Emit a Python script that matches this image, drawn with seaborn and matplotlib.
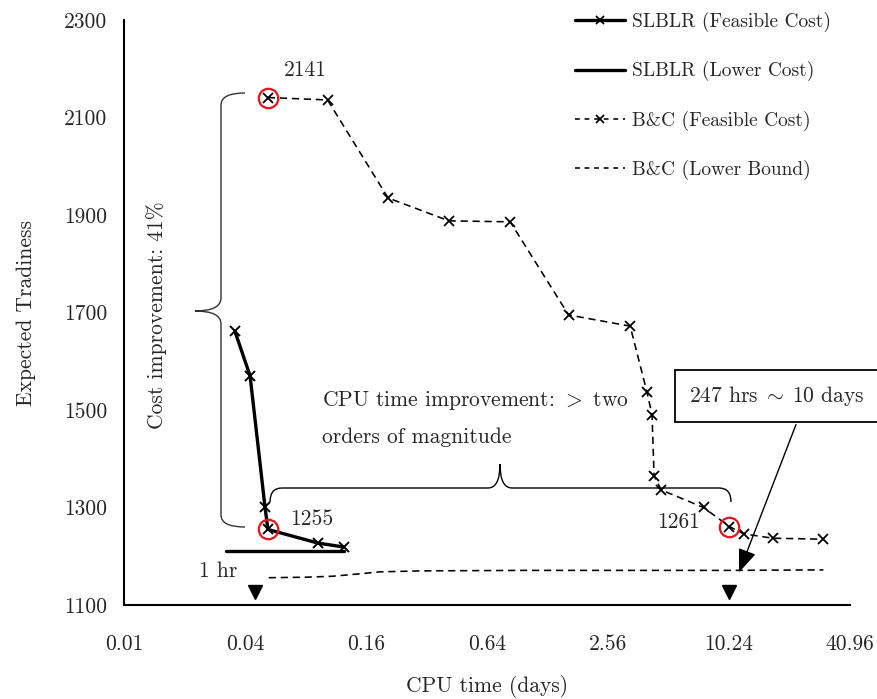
import numpy as np
import pandas as pd
import matplotlib
matplotlib.use("Agg")
import matplotlib.pyplot as plt
import seaborn as sns
from matplotlib.path import Path
from matplotlib.patches import PathPatch, FancyArrowPatch
from matplotlib.lines import Line2D
from matplotlib.transforms import Affine2D

# ---------------- data ----------------
slblr_feas_t = [0.0356, 0.0424, 0.0503, 0.052, 0.0923, 0.124]
slblr_feas_v = [1662, 1570, 1301, 1255, 1227, 1219]
slblr_low_t = [0.0322, 0.124]
slblr_low_v = [1211, 1211]
bc_feas_t = [0.052, 0.103, 0.206, 0.414, 0.835, 1.63, 3.30, 4.0, 4.24, 4.34,
             4.71, 7.65, 10.28, 12.1, 16.9, 30.2]
bc_feas_v = [2141, 2136, 1935, 1888, 1886, 1695, 1672, 1537, 1490, 1365,
             1336, 1300, 1261, 1246, 1237, 1235]
bc_low_t = [0.0525, 0.08, 0.109, 0.149, 0.188, 0.3, 1.0, 10.0, 30.2]
bc_low_v = [1156, 1157, 1159, 1164, 1168, 1170, 1171, 1171, 1172]
time_marks_t = [0.045, 10.29]       # 1 hr, 247 hrs
time_marks_v = [1127, 1127]
highlight_idx_bc = [0, 12]           # 2141, 1261
highlight_idx_slblr = [3]            # 1255
xticks = [0.01, 0.04, 0.16, 0.64, 2.56, 10.24, 40.96]
xticklabels = ["0.01", "0.04", "0.16", "0.64", "2.56", "10.24", "40.96"]
yticks = [1100, 1300, 1500, 1700, 1900, 2100, 2300]
yticklabels = [str(v) for v in yticks]

sns.set_style("white")
plt.rcParams["font.family"] = ["cmr10", "DejaVu Serif"]
plt.rcParams["mathtext.fontset"] = "cm"
plt.rcParams["axes.formatter.use_mathtext"] = True
FS = 15.5
LFS = 14

W, H = 878, 699
fig = plt.figure(figsize=(W / 100, H / 100), dpi=100)
ax = fig.add_axes([124 / W, 1 - 605 / H, (850 - 124) / W, (605 - 20) / H])

df_sf = pd.DataFrame({"t": slblr_feas_t, "v": slblr_feas_v})
df_sl = pd.DataFrame({"t": slblr_low_t, "v": slblr_low_v})
df_bf = pd.DataFrame({"t": bc_feas_t, "v": bc_feas_v})
df_bl = pd.DataFrame({"t": bc_low_t, "v": bc_low_v})

sns.lineplot(data=df_sf, x="t", y="v", ax=ax, sort=False, estimator=None,
             color="black", lw=2.4, marker="x", ms=6.5, mew=1.4, mec="black")
sns.lineplot(data=df_sl, x="t", y="v", ax=ax, sort=False, estimator=None,
             color="black", lw=2.4)
sns.lineplot(data=df_bf, x="t", y="v", ax=ax, sort=False, estimator=None,
             color="black", lw=1.15, dashes=False, marker="x", ms=6.5, mew=1.3,
             mec="black")
ax.lines[-1].set_dashes((4.5, 3))
sns.lineplot(data=df_bl, x="t", y="v", ax=ax, sort=False, estimator=None,
             color="black", lw=1.15)
ax.lines[-1].set_dashes((4.5, 3))

# highlight circles
hx = [bc_feas_t[i] for i in highlight_idx_bc] + [slblr_feas_t[i] for i in highlight_idx_slblr]
hy = [bc_feas_v[i] for i in highlight_idx_bc] + [slblr_feas_v[i] for i in highlight_idx_slblr]
ax.plot(hx, hy, ls="none", marker="o", ms=14, mfc="none", mec="#e8141c", mew=1.6, zorder=5)

# time markers
ax.plot(time_marks_t, time_marks_v, ls="none", marker="v", ms=10, color="black", zorder=5)

ax.set_xscale("log", base=4)
ax.set_xlim(xticks[0], xticks[-1])
ax.set_ylim(yticks[0], yticks[-1])
ax.set_xticks(xticks)
ax.set_xticklabels(xticklabels, fontsize=FS)
ax.set_yticks(yticks)
ax.set_yticklabels(yticklabels, fontsize=FS)
ax.minorticks_off()
ax.tick_params(axis="both", direction="out", length=6, width=1.1, color="black")
ax.tick_params(axis="x", pad=15)
ax.tick_params(axis="y", pad=6)
for s in ["top", "right"]:
    ax.spines[s].set_visible(False)
for s in ["left", "bottom"]:
    ax.spines[s].set_color("black")
    ax.spines[s].set_linewidth(1.5)
ax.set_xlabel("CPU time (days)", fontsize=FS, labelpad=15)
ax.set_ylabel("Expected Tradiness", fontsize=FS, labelpad=20)

# legend
handles = [
    Line2D([], [], color="black", lw=2.4, marker="x", ms=6, mew=1.3),
    Line2D([], [], color="black", lw=2.4),
    Line2D([], [], color="black", lw=1.15, dashes=(3, 3), marker="x", ms=6, mew=1.3),
    Line2D([], [], color="black", lw=1.15, dashes=(3, 3)),
]
labels = ["SLBLR (Feasible Cost)", "SLBLR (Lower Cost)", "B&C (Feasible Cost)",
          "B&C (Lower Bound)"]
fig.legend(handles, labels, loc="upper left", bbox_to_anchor=(575 / W, 1 - 12 / H),
           frameon=False, fontsize=LFS, handlelength=2.57, handletextpad=0.36,
           labelspacing=1.5, numpoints=1, borderpad=0, borderaxespad=0)

# pixel-space transform (y downwards)
T = Affine2D().scale(1 / W, -1 / H).translate(0, 1) + fig.transFigure


def ptext(px, py, s, **kw):
    fig.text(px / W, 1 - py / H, s, fontsize=FS, **kw)


ptext(305, 70, "2141", ha="center", va="center")
ptext(312, 519, "1255", ha="center", va="center")
ptext(679, 522, "1261", ha="center", va="center")
ptext(218, 571, "1 hr", ha="center", va="center")
ptext(157, 315, "Cost improvement: 41%", ha="center", va="center", rotation=90)
ptext(322, 400, r"CPU time improvement: $>$ two", ha="left", va="center")
ptext(322, 437, "orders of magnitude", ha="left", va="center")

# braces
C3, L, M = Path.CURVE3, Path.LINETO, Path.MOVETO
vb = [(245, 93), (221, 93), (221, 105), (221, 298), (221, 311), (195, 311),
      (221, 311), (221, 324), (221, 515), (221, 527), (245, 527)]
vc = [M, C3, C3, L, C3, C3, C3, C3, L, C3, C3]
fig.add_artist(PathPatch(Path(vb, vc), transform=T, fc="none", ec="#333333", lw=1.0))
hb = [(270, 502), (270, 488), (282, 488), (488, 488), (500, 488), (500, 464),
      (500, 488), (512, 488), (719, 488), (731, 488), (731, 502)]
fig.add_artist(PathPatch(Path(hb, vc), transform=T, fc="none", ec="black", lw=1.0))

# boxed annotation with arrow
fig.text(689 / W, 1 - 396 / H, r"247 hrs$\;{\sim}\;$10 days", fontsize=FS, ha="left", va="center",
         bbox=dict(boxstyle="square,pad=0.65", fc="white", ec="black", lw=1.3))
fig.add_artist(FancyArrowPatch(
    posA=(797, 422), posB=(738, 575), transform=T, arrowstyle="-|>,head_length=0.9,head_width=0.35",
    mutation_scale=16, color="black", lw=1.0, connectionstyle="arc3,rad=0"))

fig.savefig("out.png", dpi=100)
